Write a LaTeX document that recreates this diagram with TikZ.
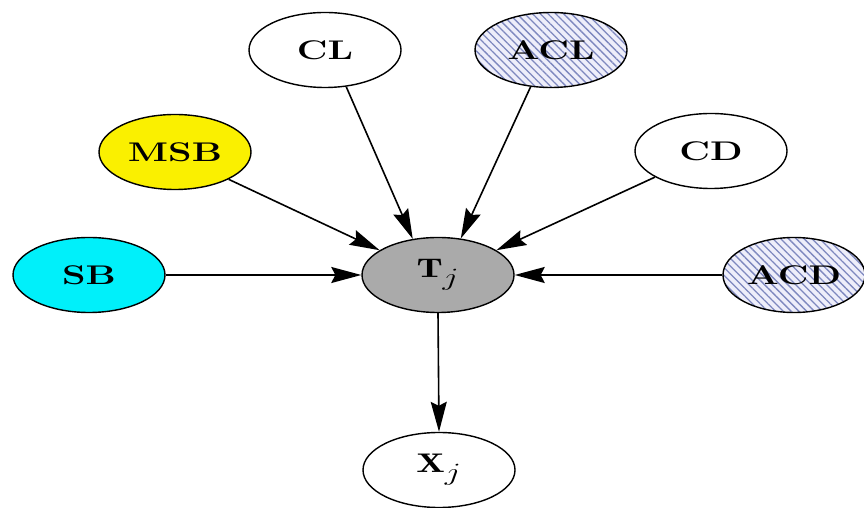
\documentclass[tikz,border=0pt]{standalone}
\usepackage{fontspec}
\usepackage{graphicx}
\usetikzlibrary{arrows.meta,patterns.meta,shapes.geometric}

\definecolor{hatchblue}{RGB}{125,135,190}
\definecolor{hatchbg}{RGB}{238,238,250}
\definecolor{targetgray}{RGB}{170,170,170}
\definecolor{sbcyan}{RGB}{0,240,250}
\definecolor{msbyellow}{RGB}{250,240,0}
% Labels are set wide, the way the graph was laid out.
\newcommand{\wide}[1]{\scalebox{1.4}[1]{#1}}

\begin{document}
\begin{tikzpicture}[x=1pt,y=1pt,
  var/.style={draw,ellipse,line width=1.4pt,minimum width=152pt,
    minimum height=75pt,inner sep=0pt,font=\fontsize{27}{32}\selectfont\bfseries},
  hatched/.style={var,preaction={fill=hatchbg},
    pattern={Lines[angle=-45,distance=5.5pt,line width=1.3pt]},pattern color=hatchblue},
  edge/.style={line width=1.6pt,-{Stealth[length=30pt,width=16pt,inset=4pt]}}]
  \useasboundingbox (0,0) rectangle (864,508);
  % Parent variables.
  \node[var] (cl) at (325,458) {\wide{CL}};
  \node[hatched] (acl) at (551,458) {\wide{ACL}};
  \node[var,fill=msbyellow] (msb) at (175,356) {\wide{MSB}};
  \node[var] (cd) at (711,357) {\wide{CD}};
  \node[var,fill=sbcyan] (sb) at (89,233) {\wide{SB}};
  \node[hatched,minimum width=142pt] (acd) at (794,233) {\wide{ACD}};
  % Target and observation.
  \node[var,fill=targetgray] (tj) at (438,233) {\wide{$\mathbf{T}_{\textstyle j}$}};
  \node[var] (xj) at (439,38) {\wide{$\mathbf{X}_{\textstyle j}$}};
  % Edges into T_j.
  \draw[edge] (cl.-60) -- (tj.125);
  \draw[edge] (acl.-119) -- (tj.58);
  \draw[edge] (msb.-27) -- (tj.157);
  \draw[edge] (cd.-155) -- (tj.23);
  \draw[edge] (sb.east) -- (tj.west);
  \draw[edge] (acd.west) -- (tj.east);
  \draw[edge] (tj.south) -- (xj.north);
\end{tikzpicture}
\end{document}
